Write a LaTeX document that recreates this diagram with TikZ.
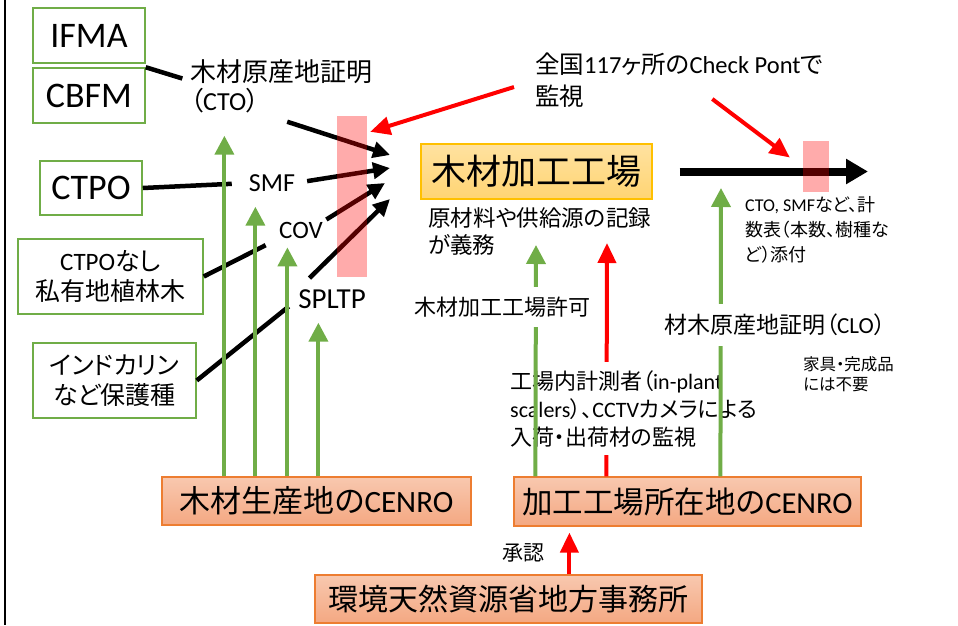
\documentclass[tikz,border=0pt]{standalone}
\usepackage{fontspec}
\setmainfont{Noto Sans CJK JP}[RawFeature=+palt]
\newfontfamily\calf{Carlito}
\usetikzlibrary{arrows.meta,positioning,calc}
\definecolor{boxgreen}{RGB}{112,173,71}
\definecolor{boxorange}{RGB}{237,125,49}
\definecolor{orangetop}{RGB}{248,200,175}
\definecolor{orangebot}{RGB}{244,168,130}
\definecolor{goldline}{RGB}{255,192,0}
\definecolor{goldtop}{RGB}{255,226,160}
\definecolor{goldbot}{RGB}{255,212,115}
\newcommand\fs[2]{\fontsize{#1}{#2}\selectfont}

\begin{document}
\begin{tikzpicture}[x=1pt, y=-1pt,
    gbox/.style={rectangle, draw=boxgreen, line width=1.5pt, fill=white, inner sep=0pt},
    obox/.style={rectangle, draw=boxorange, line width=1.2pt, top color=orangetop, bottom color=orangebot, inner sep=0pt},
    fbox/.style={rectangle, draw=goldline, line width=1.2pt, top color=goldtop, bottom color=goldbot, inner sep=0pt},
    pinkbar/.style={rectangle, fill=red, fill opacity=0.33, inner sep=0pt},
    lbl/.style={anchor=north west, align=left, inner sep=0pt},
    blkline/.style={line width=4.5pt},
    blk/.style={line width=4.5pt, -{Triangle[width=16pt,length=17pt]}},
    garr/.style={draw=boxgreen, line width=4pt, -{Triangle[width=19pt,length=19pt]}},
    rarr/.style={draw=red, line width=4pt, -{Triangle[width=18pt,length=20pt]}}]
    \useasboundingbox (0,0) rectangle (958,625);
    \draw[line width=2pt] (5,0) -- (5,625);

    % source boxes
    \node[gbox, minimum width=112pt, minimum height=55pt, font=\calf\fs{36}{40}] (ifma) at (89,35.5) {IFMA};
    \node[gbox, minimum width=112pt, minimum height=55pt, font=\calf\fs{36}{40}] (cbfm) at (89,95.5) {CBFM};
    \node[gbox, minimum width=102pt, minimum height=54pt, font=\calf\fs{36}{40}] (ctpo) at (91,188) {CTPO};
    \node[gbox, minimum width=185pt, minimum height=75pt, align=center, font=\fs{25}{30}] (private) at (110.5,276.5) {{\calf CTPO}なし\\私有地植林木};
    \node[gbox, minimum width=163pt, minimum height=75pt, align=center, font=\fs{25}{30}] (karin) at (114.5,380.5) {インドカリン\\など保護種};

    % documents
    \node[lbl, font=\fs{26}{29}] (cto) at (190,59) {木材原産地証明\\（{\calf CTO}）};
    \node[inner sep=0pt, font=\calf\fs{26}{30}] (smf) at (272,183) {SMF};
    \node[inner sep=0pt, font=\calf\fs{25}{30}] (cov) at (301,230) {COV};
    \node[inner sep=0pt, font=\calf\fs{29}{32}] (spltp) at (332,299) {SPLTP};

    % factory
    \node[fbox, minimum width=231pt, minimum height=55pt, font=\fs{35}{40}] (factory) at (536.5,171.5) {木材加工工場};
    \node[lbl, font=\fs{22.5}{27}] (fnote) at (428,207) {原材料や供給源の記録\\が義務};
    \node[lbl, font=\fs{24.5}{32}] (check) at (535,53) {全国{\calf 117}ヶ所の{\calf Check Pont}で\\監視};
    \node[lbl, font=\fs{18}{25}] (ctonote) at (745,196) {{\calf CTO, SMF}など、計\\数表（本数、樹種な\\ど）添付};
    \node[lbl, font=\fs{16.5}{20}] (kagu) at (803,356) {家具・完成品\\には不要};

    % CENRO
    \node[obox, minimum width=309pt, minimum height=48pt, font=\fs{31}{34}] (lcenro) at (316.5,501) {木材生産地の{\calf CENRO}};
    \node[obox, minimum width=347pt, minimum height=49pt, font=\fs{30.5}{34}] (rcenro) at (687.5,501.5) {加工工場所在地の{\calf CENRO}};
    \node[obox, minimum width=387pt, minimum height=48pt, font=\fs{30}{34}] (mof) at (508.5,599) {環境天然資源省地方事務所};
    \node[inner sep=0pt, font=\fs{21}{24}] (shonin) at (523,553) {承認};

    % flows into the factory
    \coordinate (in1) at (390,155);
    \coordinate (in2) at (390,168);
    \coordinate (in3) at (385,183);
    \coordinate (in4) at (390,199);
    \coordinate (out) at (868,171.5);
    \draw[blkline, shorten >=8pt] (cbfm.north east) -- ([yshift=5pt]cto.west);
    \draw[blk] ([shift={(6,9)}]cto.south) -- (in1);
    \draw[blkline, shorten >=17pt] (ctpo.east) -- (smf.west);
    \draw[blk, shorten <=12pt] (smf.east) -- (in2);
    \draw[blkline, shorten >=15pt] (private.east) -- (cov.south west);
    \draw[blk, shorten <=4pt] (cov.north east) -- (in3);
    \draw[blkline, shorten >=12pt] (karin.east) -- (spltp.west);
    \draw[blk, shorten <=16pt] (spltp.north west) -- (in4);
    \draw[line width=8pt, -{Triangle[width=24pt,length=22pt]}, shorten <=27pt] (factory.east) -- (out);

    % check points
    \node[pinkbar, minimum width=30pt, minimum height=161pt] (bar1) at (352,196.5) {};
    \node[pinkbar, minimum width=26pt, minimum height=51pt] (bar2) at (816,166.5) {};
    \draw[rarr, shorten <=22pt] (check.west) -- ([shift={(3,16)}]bar1.north east);
    \draw[rarr] ([shift={(33,-9)}]check.south) -- ([shift={(-13,-9)}]bar2.west);

    % issued by CENRO of origin
    \foreach \xo/\trg/\gp in {63/cto/23, 94/smf/15, 126/cov/9, 157/spltp/14}
        \draw[garr, shorten >=\gp pt] ($(lcenro.north west)+(\xo,0)$) -- ($(lcenro.north west |- \trg.south)+(\xo,0)$);

    % CENRO of the factory
    \coordinate (redtip) at (607,243);
    \coordinate (permtip) at (536,245);
    \coordinate (clotip) at (721,188);
    \draw[rarr] ($(rcenro.north west)+(93,0)$) -- (redtip);
    \node[anchor=north west, align=left, fill=white, inner xsep=0pt, inner ysep=8pt, font=\fs{22}{28}] (monitor) at (510,362) {工場内計測者（{\calf in-plant}\\{\calf scalers}）、{\calf CCTV}カメラによる\\入荷・出荷材の監視};
    \draw[garr] ($(rcenro.north west)+(22,0)$) -- (permtip);
    \draw[garr] ($(rcenro.north west)+(207,0)$) -- (clotip);
    \node[fill=white, inner xsep=2pt, inner ysep=10pt, font=\fs{22}{26}] (permit) at (502,307) {木材加工工場許可};
    \node[fill=white, inner xsep=2pt, inner ysep=10pt, font=\fs{23}{26}] (clo) at (775,325) {材木原産地証明（{\calf CLO}）};
    \draw[rarr, shorten >=6pt] ($(mof.north west)+(255,0)$) -- ($(rcenro.south west)+(56,0)$);
\end{tikzpicture}
\end{document}
